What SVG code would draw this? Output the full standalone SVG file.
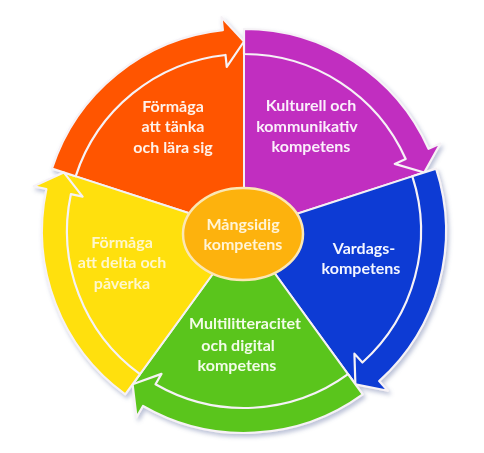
<svg xmlns="http://www.w3.org/2000/svg" width="484" height="453" viewBox="0 0 484 453">
<defs>
<filter id="sh" x="-10%" y="-10%" width="120%" height="120%">
<feDropShadow dx="2" dy="3" stdDeviation="2" flood-color="#6a78a8" flood-opacity="0.45"/>
</filter>
</defs>
<style>
.w{stroke:#f4f0f4;stroke-width:2;stroke-linejoin:round}
.a{stroke:#f6f2f6;stroke-width:2.2;stroke-linejoin:round}
.t{font-family:Lato,"Open Sans",sans-serif;font-weight:bold;font-size:16px;text-anchor:middle}
.or{fill:#FF5500}.pu{fill:#C12FC0}.bl{fill:#0B3AD4}.gr{fill:#5AC51E}.ye{fill:#FFE00A}
</style>
<rect width="484" height="453" fill="#ffffff"/>
<g filter="url(#sh)">
<g id="orange">
<path class="w or" d="M244 231 L64.25 172.6 A189 189 0 0 1 244 42 Z"/>
<text class="t" fill="#FFF2EA"><tspan x="173" y="112">Förmåga</tspan><tspan x="173" y="132">att tänka</tspan><tspan x="173" y="153">och lära sig</tspan></text>
</g>
<g id="purple">
<path class="w pu" d="M244 231 L244 42 A189 189 0 0 1 423.75 172.6 Z"/>
<text class="t" fill="#FBEFFB"><tspan x="311" y="111">Kulturell och</tspan><tspan x="307" y="132">kommunikativ</tspan><tspan x="311" y="152">kompetens</tspan></text>
</g>
<g id="blue">
<path class="w bl" d="M244 231 L423.75 172.6 A189 189 0 0 1 355.09 383.9 Z"/>
<text class="t" fill="#F4F6FF"><tspan x="364" y="254">Vardags-</tspan><tspan x="361" y="274">kompetens</tspan></text>
</g>
<g id="green">
<path class="w gr" d="M244 231 L355.09 383.9 A189 189 0 0 1 132.91 383.9 Z"/>
<text class="t" fill="#F2FCE8"><tspan x="245" y="329">Multilitteracitet</tspan><tspan x="238" y="351">och digital</tspan><tspan x="237" y="371">kompetens</tspan></text>
</g>
<g id="yellow">
<path class="w ye" d="M244 231 L132.91 383.9 A189 189 0 0 1 64.25 172.6 Z"/>
<text class="t" fill="#FFF7CC"><tspan x="122" y="248">Förmåga</tspan><tspan x="122" y="268">att delta och</tspan><tspan x="122" y="289">påverka</tspan></text>
</g>
<g id="connectors">
<path class="a or" d="M51.89 168.58 A202 202 0 0 1 222.88 30.11 L221.53 17.18 L244 41.5 L226.75 66.9 L225.5 54.97 A177 177 0 0 0 75.66 176.3 Z"/>
<path class="a pu" d="M244 29 A202 202 0 0 1 428.54 148.84 L440.41 143.55 L424.23 172.44 L394.74 163.89 L405.7 159.01 A177 177 0 0 0 244 54 Z"/>
<path class="a bl" d="M436.11 168.58 A202 202 0 0 1 379.16 381.11 L387.86 390.78 L355.39 384.31 L354.41 353.62 L362.44 362.54 A177 177 0 0 0 412.34 176.3 Z"/>
<path class="a gr" d="M362.73 394.42 A202 202 0 0 1 143 405.94 L136.5 417.2 L132.61 384.31 L161.5 373.89 L155.5 384.29 A177 177 0 0 0 348.04 374.2 Z"/>
<path class="a ye" d="M125.27 394.42 A202 202 0 0 1 46.41 189 L33.7 186.3 L63.77 172.44 L82.61 196.69 L70.87 194.2 A177 177 0 0 0 139.96 374.2 Z"/>
</g>
<g id="center">
<ellipse cx="243" cy="234" rx="60" ry="46" fill="#FDB20F" stroke="#FBE7B4" stroke-width="2.5"/>
<text class="t" fill="#FFF4D6"><tspan x="243" y="230">Mångsidig</tspan><tspan x="243" y="250">kompetens</tspan></text>
</g>
</g>
</svg>
